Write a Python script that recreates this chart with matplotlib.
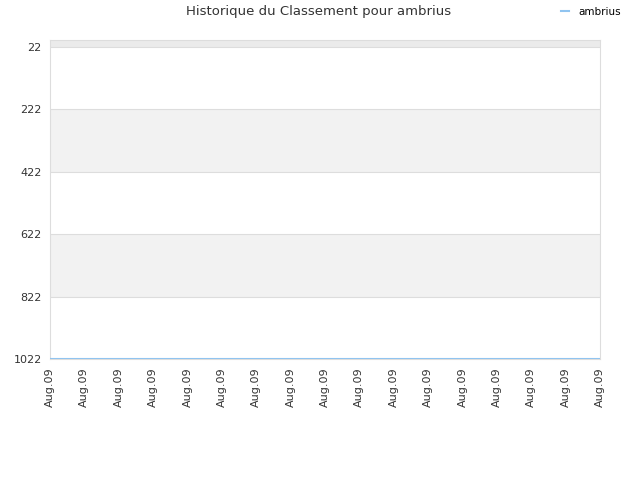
import matplotlib.pyplot as plt

# Données
dates = ["Aug.09"] * 17
classement = [1022] * 17
graduations = [22, 222, 422, 622, 822, 1022]

fig = plt.figure(figsize=(6.4, 4.8), dpi=100)
ax = fig.add_axes([0.078, 0.252, 0.8595, 0.6645])

# Bandes alternées
ax.axhspan(0, 22, color="#ebebeb", zorder=0, lw=0)
for i in range(len(graduations) - 1):
    if i % 2 == 1:
        ax.axhspan(graduations[i], graduations[i + 1], color="#f2f2f2", zorder=0, lw=0)
for g in graduations:
    ax.axhline(g, color="#dddddd", lw=0.8, zorder=1)

x = list(range(len(dates)))
ligne, = ax.plot(x, classement, color="#90c4f0", lw=1.5, zorder=3, label="ambrius")

ax.set_xlim(0, len(dates) - 1)
ax.set_ylim(1022, 0)
ax.set_yticks(graduations)
ax.set_yticklabels([str(g) for g in graduations], fontsize=8, color="#333333")
ax.set_xticks(x)
ax.set_xticklabels(dates, rotation=90, fontsize=8, color="#333333")
ax.tick_params(length=0, pad=6)

for cote in ax.spines.values():
    cote.set_color("#dddddd")

fig.text(0.497, 0.975, "Historique du Classement pour ambrius", ha="center", va="center",
         fontsize=9.5, color="#333333")
fig.legend(handles=[ligne], loc="center right", bbox_to_anchor=(0.985, 0.975), frameon=False,
           fontsize=7.5, handlelength=0.8, handletextpad=0.9)

plt.savefig("out.png", dpi=100)
